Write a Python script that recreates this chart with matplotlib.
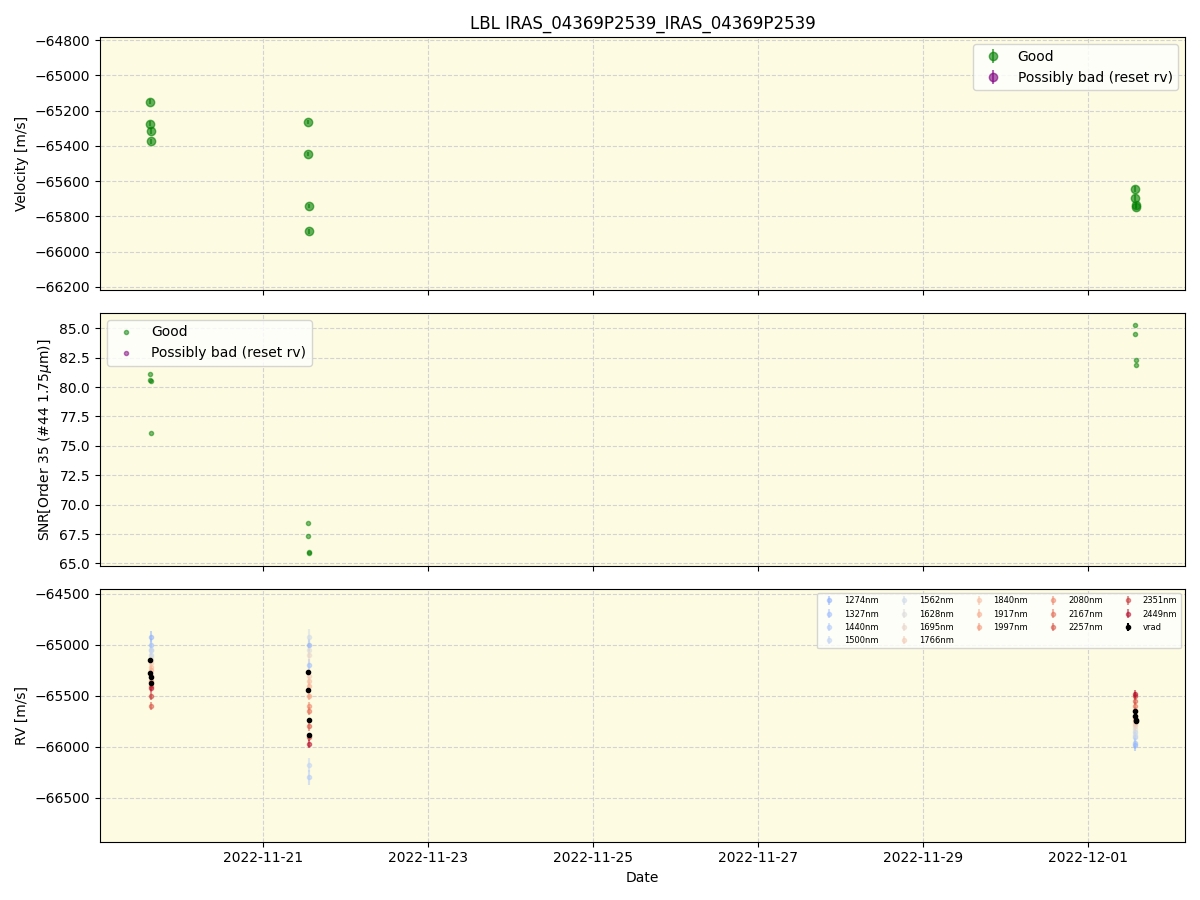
import numpy as np
import pandas as pd
import matplotlib
matplotlib.use("Agg")
import matplotlib.pyplot as plt

times = pd.to_datetime([
    "2022-11-19 15:00", "2022-11-19 15:10", "2022-11-19 15:20", "2022-11-19 15:30",
    "2022-11-21 13:00", "2022-11-21 13:10", "2022-11-21 13:20", "2022-11-21 13:30",
    "2022-12-01 13:40", "2022-12-01 13:50", "2022-12-01 14:00", "2022-12-01 14:10",
])
vrad = [-65150, -65275, -65315, -65375, -65265, -65445, -65740, -65885,
        -65645, -65695, -65735, -65745]
vrad_err = [15, 15, 15, 15, 12, 12, 12, 12, 15, 15, 15, 15]
snr = [81.1, 80.6, 80.5, 76.1, 68.4, 67.3, 66.0, 65.9, 85.3, 84.5, 82.3, 81.9]

bands = ["1274nm", "1327nm", "1440nm", "1500nm", "1562nm", "1628nm", "1695nm",
         "1766nm", "1840nm", "1917nm", "1997nm", "2080nm", "2167nm", "2257nm",
         "2351nm", "2449nm"]
# per-band RV at each of the three epochs
band_times = pd.to_datetime(["2022-11-19 15:15", "2022-11-21 13:15", "2022-12-01 13:55"])
band_rv = [
    [-64920, -65000, -65980],
    [-65000, -65200, -65960],
    [-65050, -66300, -65900],
    [-65100, -66180, -65850],
    [-65050, -64920, -65880],
    [-65120, -65050, -65820],
    [-65150, -65100, -65800],
    [-65180, -65300, -65780],
    [-65220, -65350, -65750],
    [-65250, -65400, -65720],
    [-65300, -65500, -65700],
    [-65350, -65600, -65650],
    [-65400, -65650, -65600],
    [-65600, -65800, -65550],
    [-65500, -65900, -65500],
    [-65420, -65970, -65480],
]
band_err = [60, 60, 70, 70, 80, 80, 80, 60, 40, 40, 40, 40, 40, 40, 40, 40]

bg = "#fdfbe1"
fig, axes = plt.subplots(3, 1, figsize=(12, 9), sharex=True)
for ax in axes:
    ax.set_facecolor(bg)
    ax.grid(True, linestyle="--", color="lightgray")
    ax.set_axisbelow(True)

ax = axes[0]
ax.errorbar(times, vrad, yerr=vrad_err, fmt="o", color="green", alpha=0.6, label="Good")
ax.errorbar([], [], yerr=[], fmt="o", color="purple", alpha=0.6, label="Possibly bad (reset rv)")
ax.set_ylim(-66217, -64783)
ax.set_ylabel("Velocity [m/s]")
ax.set_title("LBL IRAS_04369P2539_IRAS_04369P2539")
ax.legend(loc="upper right")

ax = axes[1]
ax.plot(times, snr, ".", color="green", alpha=0.5, label="Good")
ax.plot([], [], ".", color="purple", alpha=0.5, label="Possibly bad (reset rv)")
ax.set_ylim(64.8, 86.3)
ax.set_ylabel("SNR[Order 35 (#44 1.75$\\mu$m)]")
ax.legend(loc="upper left")

ax = axes[2]
cmap = plt.get_cmap("coolwarm")
for i, (b, rv) in enumerate(zip(bands, band_rv)):
    c = cmap(0.25 + 0.75 * i / (len(bands) - 1))
    ax.errorbar(band_times, rv, yerr=band_err[i], fmt=".", color=c, alpha=0.5, label=b)
ax.errorbar(times, vrad, yerr=vrad_err, fmt=".", color="black", label="vrad")
ax.set_ylim(-66930, -64450)
ax.set_ylabel("RV [m/s]")
ax.set_xlabel("Date")
ax.legend(loc="upper right", ncol=5, fontsize=6)

ax.set_xlim(pd.Timestamp("2022-11-19 00:30"), pd.Timestamp("2022-12-02 04:20"))
ax.set_xticks(pd.date_range("2022-11-21", "2022-12-01", freq="2D"))
ax.xaxis.set_major_formatter(matplotlib.dates.DateFormatter("%Y-%m-%d"))

fig.tight_layout()
fig.savefig("out.png", dpi=100)
